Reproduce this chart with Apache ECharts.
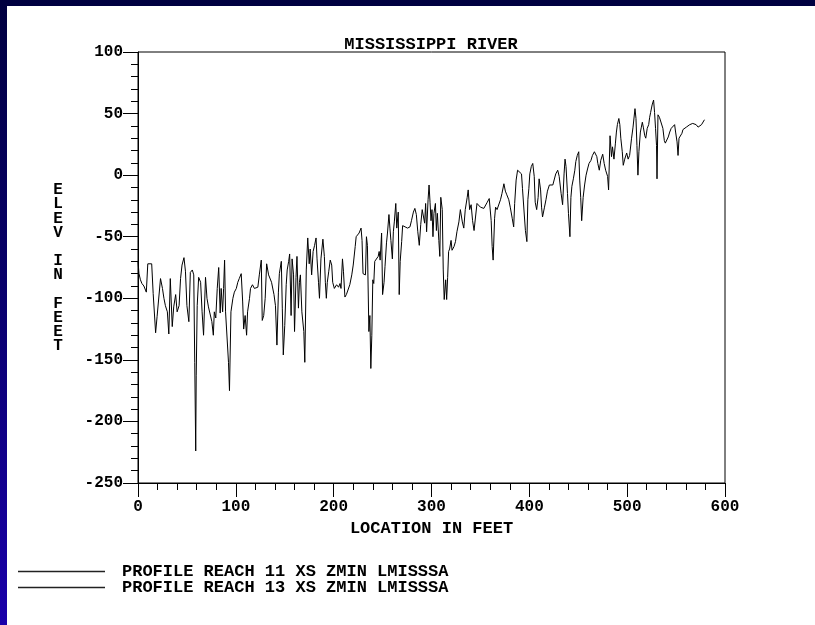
<!DOCTYPE html>
<html><head><meta charset="utf-8">
<script src="https://cdn.jsdelivr.net/npm/echarts@6/dist/echarts.min.js"></script>
<style>
html,body{margin:0;padding:0;width:815px;height:625px;overflow:hidden;background:linear-gradient(to bottom,#000040 0%,#08006a 45%,#1a00aa 100%);}
#paper{position:absolute;left:7px;top:6px;width:808px;height:619px;background:#fff;}
#chart{position:absolute;left:0;top:0;width:815px;height:625px;}
</style></head><body><div id="paper"></div><div id="chart"></div>
<script>
const chartTitle = 'MISSISSIPPI RIVER';
const xAxisName = 'LOCATION IN FEET';
const yAxisNameLetters = ['E','L','E','V','','I','N','','F','E','E','T'];
const seriesNames = ['PROFILE REACH 11 XS ZMIN LMISSSA', 'PROFILE REACH 13 XS ZMIN LMISSSA'];

const reach11X = [0,1,2.5,4,6,8.5,10,14,15.5,18,19.5,23,25,26.5,28,30,31.5,33,35,36.5,38.5,40,42,43.5,45,47,48.5,50,52,53.5,55.5,57,58,59,59.5,60.5,62,64,65.5,67,69,70.5,72,74,75.5,77,78,79.5,81,82.5,84,85,86.5,87.5,88.5,89.5,91.5,92.5,93.5,95,97,98.5,100.5,102,103.5,105.5,107,108,109.5,111,112,114,115,117,119,120.5,122.5,124,126,127,128.5,130,131.5,133.5,135,136.5,139,140.5,142,143.5,144.5,146.5,147.5,148.5,150,151.5,152.5,154,155,156.5,157.5,159,160,161.5,162.5,164,165,166,167.5,169.5,170.5,172,173.5,175,176,177.5,179,180.5,182,183,184.5,185.5,187,189,190.5,191.5,192.5,193.5,195,196.5,198,199,200.7,203,205,206.5,207.5,209,210,211.5,213,215,216.5,218.5,220,222,223,224.5,226,228,229,230,231.5,232.5,233.5,234.5,236,237,238,239,240,241,242,244,245.5,246.5,247.5,249,250,251.5,252.5,254,255,256.5,257.5,258.5,260,261,262,263.5,264.5,266,267,268,269.5,270.5,273,275.5,278,279.5,281.5,283,284.5,286,287.5,289,290.5,292,293,294,295,296.5,297.5,298.5,299.5,300.5];
const reach11Y = [-70,-80,-85,-88,-90,-95,-72,-72,-96,-128,-115,-84,-92,-100,-106,-111,-129,-84,-123,-107,-97,-111,-106,-84,-73,-67,-78,-106,-119,-79,-77,-81,-152,-224,-163,-106,-83,-87,-111,-130,-83,-100,-107,-108,-119,-130,-111,-116,-92,-75,-112,-92,-111,-92,-69,-111,-110,-152,-175,-111,-100,-95,-92,-87,-84,-80,-103,-125,-114,-130,-111,-100,-92,-89,-92,-93,-91,-81,-69,-118,-114,-100,-72,-81,-80,-87,-97,-106,-138,-95,-80,-70,-108,-146,-122,-89,-77,-70,-64,-114,-68,-81,-127,-83,-66,-108,-87,-81,-111,-127,-152,-77,-51,-72,-60,-81,-62,-57,-51,-68,-87,-100,-68,-52,-66,-87,-100,-87,-78,-69,-73,-87,-92,-89,-91,-88,-92,-68,-78,-99,-97,-97,-89,-81,-73,-58,-50,-50,-47,-43,-53,-80,-81,-81,-50,-57,-127,-114,-157,-130,-85,-88,-70,-70,-66,-62,-69,-47,-97,-87,-74,-55,-47,-32,-43,-53,-68,-46,-38,-23,-43,-30,-97,-70,-54,-41,-42,-43,-42,-37,-30,-27,-32,-46,-57,-40,-28,-27,-39,-23,-46,-20,-8,-22,-37,-28];

const reach13X = [300.5,301.5,302.5,304,305,306,307.5,308.5,309.5,311,312,313,314.5,315.5,316.5,317.5,318.5,320,321,323,324.5,326,328,329.5,331.5,333,334.5,336.5,337.5,339,340.5,342,343.5,345,346.5,348.5,350,351.5,353.5,355,357,359,361,362,363,364.5,365.5,367,368.5,370.5,372,374,375.5,377,379,380.5,382.5,384,385,386.5,388,390,392,393,395,396,397.5,398.5,399.5,400.5,402,403.5,405,406,407.5,409,410,411.5,412.5,413.5,414.5,415.5,417,418.5,420.5,422,424,425.5,427,429,430.5,432.5,434,435.5,436.5,437.5,439,440,441.5,442.5,443.5,445,446.5,447.5,449,450.5,451.5,452.5,453.5,455,456.5,458,459.5,461,463,464.5,466.5,467.5,469,470,471.5,473,475,476.5,478,480,481,482.5,484,485,486.5,488,489,490,491.5,492.5,493.5,495,496,497.5,499.5,501,502.5,504.5,506,508,509,510,511,512,513.5,514.5,515.5,516.5,518,519,520.5,522,523,524,525.5,527,528,529,530,530.5,531.5,533,535,536.5,538,539,540,542,543.5,545,547,548.5,549.5,551,552,553,554.5,556,557,559,560.5,562,564,565.5,567,569,570.5,572.5,574,576,577.5,579];
const reach13Y = [-28,-50,-31,-23,-45,-31,-53,-66,-18,-28,-77,-101,-85,-101,-83,-62,-60,-53,-61,-58,-54,-46,-38,-28,-38,-43,-28,-18,-12,-28,-24,-37,-45,-34,-23,-23,-26,-26,-27,-26,-22,-19,-37,-58,-69,-35,-26,-28,-28,-20,-15,-7,-13,-16,-20,-26,-35,-42,-23,-4,4,3,1,-11,-34,-45,-54,-20,-11,1,7,9.5,-1,-22,-28,-18,-3,-12,-26,-34,-35,-26,-20,-13,-8,-8,-8,-7,1,4,-1,-15,-24,1,13,7,-15,-31,-50,-18,-9,-3,4,11,16,19,-4,-18,-37,-18,-8,0,5,9.5,12,16,19,20,15,9.5,4,12,17,9.5,4,-1,-12,32,15,23,13,26,35,41,46,41,30,19,8,13,18,13,16,30,39,54,46,24,0,19,35,39,43,39,32,30,38,41,47,51,57,61,51,38,24,-3,49,47,46,38,28,26,27,31,35,38,39,41,35,27,16,30,31,34,37,38,39,39,41,42,42,42,41,39,38,41,42,45];

const xMin = 0, xMax = 600, xStep = 100;
const yMin = -250, yMax = 100, yStep = 50;

const FONT = '"Liberation Mono", "DejaVu Sans Mono", monospace';
const toPairs = (xs, ys) => xs.map((x, i) => [x, ys[i]]);

const chart = echarts.init(document.getElementById('chart'), null, {renderer: 'canvas'});
chart.setOption({
  animation: false,
  backgroundColor: 'transparent',
  grid: {left: 138, top: 52, width: 587, height: 431, show: true, borderColor: '#000', borderWidth: 1, backgroundColor: 'transparent'},
  xAxis: {
    type: 'value', min: xMin, max: xMax, interval: xStep,
    name: xAxisName, nameLocation: 'middle', nameGap: 32,
    nameTextStyle: {fontFamily: FONT, fontWeight: 'bold', fontSize: 17, color: '#000'},
    axisLine: {show: true, onZero: false, lineStyle: {color: '#000', width: 1}},
    splitLine: {show: false},
    axisTick: {show: true, inside: false, length: 14, lineStyle: {color: '#000'}},
    minorTick: {show: true, splitNumber: 5, length: 7, lineStyle: {color: '#000'}},
    axisLabel: {margin: 16, fontFamily: FONT, fontWeight: 'bold', fontSize: 16, color: '#000', showMinLabel: true, showMaxLabel: true}
  },
  yAxis: {
    type: 'value', min: yMin, max: yMax, interval: yStep,
    axisLine: {show: true, onZero: false, lineStyle: {color: '#000', width: 1}},
    splitLine: {show: false},
    axisTick: {show: true, inside: false, length: 15, lineStyle: {color: '#000'}},
    minorTick: {show: true, splitNumber: 5, length: 7, lineStyle: {color: '#000'}},
    axisLabel: {margin: 15, fontFamily: FONT, fontWeight: 'bold', fontSize: 16, color: '#000', showMinLabel: true, showMaxLabel: true}
  },
  legend: {
    orient: 'vertical', left: 18, top: 563, padding: 0, itemWidth: 87, itemHeight: 1.5, itemGap: -1,
    icon: 'rect', selectedMode: false, data: seriesNames,
    itemStyle: {color: '#222'},
    textStyle: {fontFamily: FONT, fontWeight: 'bold', fontSize: 17, color: '#000', lineHeight: 16, padding: [0, 0, 0, 12]}
  },
  graphic: [
    {type: 'text', x: 431, y: 45, style: {text: chartTitle, align: 'center', verticalAlign: 'middle', font: 'bold 17px ' + FONT, fill: '#000'}},
    {type: 'text', x: 58, y: 183, style: {text: yAxisNameLetters.join('\n'), align: 'center', verticalAlign: 'top', font: 'bold 16px ' + FONT, lineHeight: 14.2, fill: '#000'}}
  ],
  series: [
    {name: seriesNames[0], type: 'line', smooth: false, data: toPairs(reach11X, reach11Y), symbol: 'none', showSymbol: false, lineStyle: {color: '#000', width: 1}, itemStyle: {color: '#000'}},
    {name: seriesNames[1], type: 'line', smooth: false, data: toPairs(reach13X, reach13Y), symbol: 'none', showSymbol: false, lineStyle: {color: '#000', width: 1}, itemStyle: {color: '#000'}}
  ]
});
</script></body></html>
